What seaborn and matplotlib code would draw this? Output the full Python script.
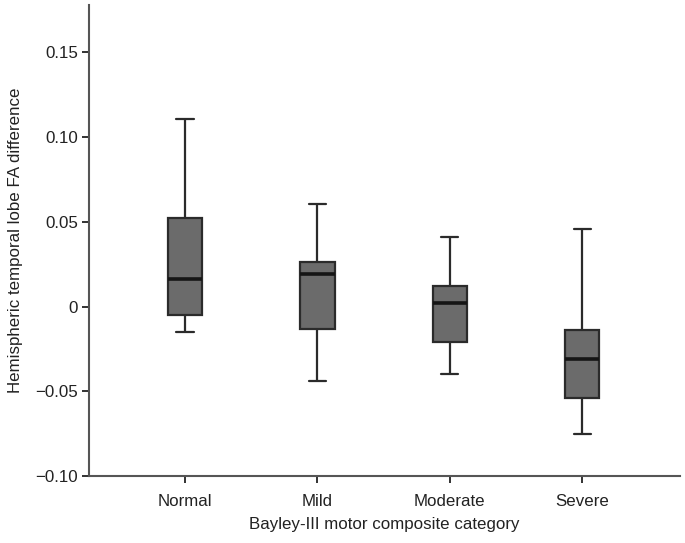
import numpy as np
import pandas as pd
import matplotlib
matplotlib.use("Agg")
import matplotlib.pyplot as plt
import seaborn as sns

# categories and five-number summaries
categories = ["Normal", "Mild", "Moderate", "Severe"]
mins = [-0.015, -0.044, -0.040, -0.075]
q1s = [-0.005, -0.013, -0.021, -0.054]
medians = [0.0165, 0.019, 0.002, -0.031]
q3s = [0.052, 0.0265, 0.012, -0.014]
maxs = [0.1105, 0.0605, 0.041, 0.0455]
yticks = [-0.10, -0.05, 0, 0.05, 0.10, 0.15]
ytick_labels = ["\u22120.10", "\u22120.05", "0", "0.05", "0.10", "0.15"]

# one row per summary point so quartiles come out exactly
rows = []
for c, a, b, m, d, e in zip(categories, mins, q1s, medians, q3s, maxs):
    for v in (a, b, m, d, e):
        rows.append({"cat": c, "val": v})
df = pd.DataFrame(rows)

sns.set_style("ticks")
plt.rcParams["font.family"] = ["Liberation Sans", "DejaVu Sans"]

fig = plt.figure(figsize=(6.85, 5.43), dpi=100)
ax = fig.add_axes([0.130, 0.1234, 0.863, 0.8674])

sns.boxplot(data=df, x="cat", y="val", order=categories, ax=ax,
            color="#6b6b6b", saturation=1, width=0.26, whis=(0, 100),
            linecolor="#2b2b2b", linewidth=1.6,
            medianprops=dict(color="#151515", linewidth=2.6))

ax.set_xlim(-0.725, 3.74)
ax.set_ylim(-0.10, 0.178)
ax.set_yticks(yticks)
ax.set_yticklabels(ytick_labels)
ax.tick_params(axis="both", labelsize=12.2, colors="#222222", length=5,
               width=1.3, direction="out")
ax.tick_params(axis="x", pad=8)
ax.tick_params(axis="y", pad=3)
for s in ["left", "bottom"]:
    ax.spines[s].set_color("#555555")
    ax.spines[s].set_linewidth(1.5)
sns.despine(ax=ax)
ax.set_xlabel("Bayley-III motor composite category", fontsize=12.2,
              color="#222222", labelpad=6)
ax.set_ylabel("Hemispheric temporal lobe FA difference", fontsize=12.2,
              color="#222222", labelpad=9)

fig.savefig("out.png", dpi=100)
